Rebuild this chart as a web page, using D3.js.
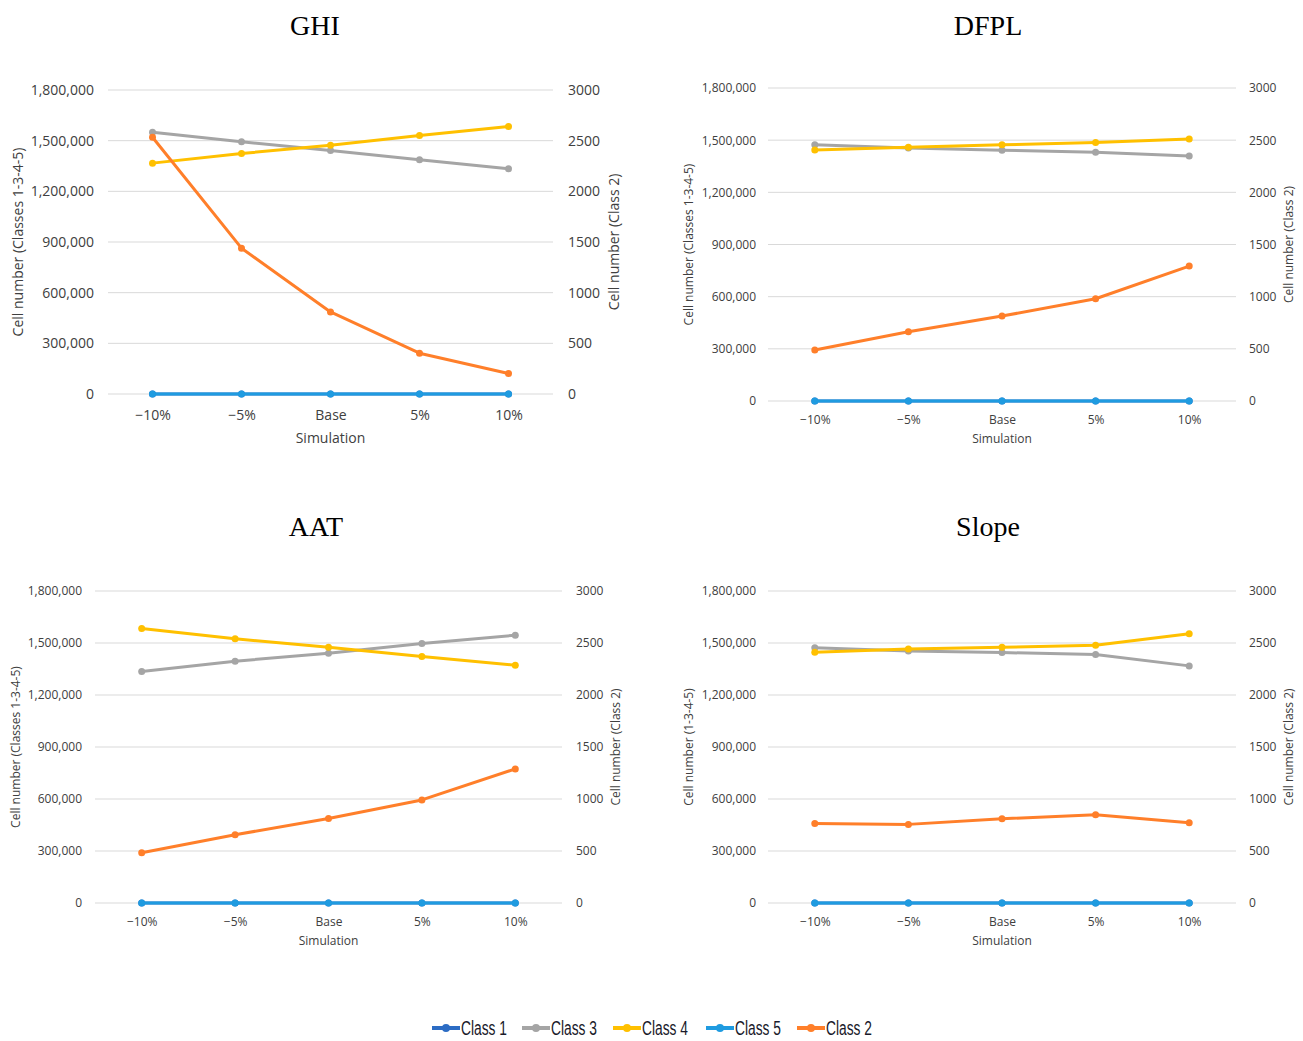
<!DOCTYPE html>
<html>
<head>
<meta charset="utf-8">
<script src="https://cdn.jsdelivr.net/npm/d3@7"></script>
<style>
body { margin: 0; background: #fff; }
text { font-family: "Open Sans", "Noto Sans", sans-serif; fill: #404040; }
.title { font-family: "Liberation Serif", "DejaVu Serif", serif; fill: #000; }
.legend text { font-family: "Liberation Sans", sans-serif; fill: #1a1a2a; }
</style>
</head>
<body>
<svg id="chart" width="1303" height="1041"></svg>
<script>
var categories = ["\u221210%", "\u22125%", "Base", "5%", "10%"];
var leftTicks = [0, 300000, 600000, 900000, 1200000, 1500000, 1800000];
var rightTicks = [0, 500, 1000, 1500, 2000, 2500, 3000];
var seriesNames = ["Class 1", "Class 3", "Class 4", "Class 5", "Class 2"];
var seriesColors = ["#2c6cc4", "#a5a5a5", "#ffc000", "#1f9be0", "#ff7f2a"];

// GHI
var ghiClass1 = [0, 0, 0, 0, 0];
var ghiClass3 = [1550000, 1493000, 1442000, 1387000, 1334000];
var ghiClass4 = [1367000, 1424000, 1473000, 1530000, 1584000];
var ghiClass5 = [0, 0, 0, 0, 0];
var ghiClass2 = [2534, 1439, 810, 403, 203];

// DFPL
var dfplClass1 = [0, 0, 0, 0, 0];
var dfplClass3 = [1473000, 1455000, 1442000, 1430000, 1409000];
var dfplClass4 = [1444000, 1459000, 1473000, 1486000, 1507000];
var dfplClass5 = [0, 0, 0, 0, 0];
var dfplClass2 = [488, 664, 814, 980, 1293];

// AAT
var aatClass1 = [0, 0, 0, 0, 0];
var aatClass3 = [1336000, 1395000, 1441000, 1497000, 1545000];
var aatClass4 = [1583000, 1524000, 1476000, 1422000, 1372000];
var aatClass5 = [0, 0, 0, 0, 0];
var aatClass2 = [483, 656, 812, 991, 1289];

// Slope
var slopeClass1 = [0, 0, 0, 0, 0];
var slopeClass3 = [1473000, 1454000, 1445000, 1433000, 1368000];
var slopeClass4 = [1447000, 1466000, 1475000, 1487000, 1554000];
var slopeClass5 = [0, 0, 0, 0, 0];
var slopeClass2 = [765, 756, 810, 848, 772];

var panels = [
  { title: "GHI", x0: 108, x1: 553, yTop: 90, yBot: 394, titleX: 315, titleY: 35,
    leftTitle: "Cell number (Classes 1-3-4-5)", leftX: 18, rightX: 614,
    tickSize: 14, axisTitleSize: 14, gap: 14, xPad: 16, simOff: 49,
    left: [ghiClass1, ghiClass3, ghiClass4, ghiClass5], right: ghiClass2 },
  { title: "DFPL", x0: 768, x1: 1236, yTop: 88, yBot: 401, titleX: 988, titleY: 35,
    leftTitle: "Cell number (Classes 1-3-4-5)", leftX: 689, rightX: 1289,
    tickSize: 12, axisTitleSize: 12, gap: 12, xPad: 14, simOff: 42,
    left: [dfplClass1, dfplClass3, dfplClass4, dfplClass5], right: dfplClass2 },
  { title: "AAT", x0: 95, x1: 562, yTop: 591, yBot: 903, titleX: 316, titleY: 536,
    leftTitle: "Cell number (Classes 1-3-4-5)", leftX: 16, rightX: 616,
    tickSize: 12, axisTitleSize: 12, gap: 13, xPad: 14, simOff: 42,
    left: [aatClass1, aatClass3, aatClass4, aatClass5], right: aatClass2 },
  { title: "Slope", x0: 768, x1: 1236, yTop: 591, yBot: 903, titleX: 988, titleY: 536,
    leftTitle: "Cell number (1-3-4-5)", leftX: 689, rightX: 1289,
    tickSize: 12, axisTitleSize: 12, gap: 12, xPad: 14, simOff: 42,
    left: [slopeClass1, slopeClass3, slopeClass4, slopeClass5], right: slopeClass2 }
];

var svg = d3.select("#chart");
var fmt = d3.format(",");

panels.forEach(function (p) {
  var g = svg.append("g");
  var x = d3.scalePoint().domain(categories).range([p.x0, p.x1]).padding(0.5);
  var yL = d3.scaleLinear().domain([0, 1800000]).range([p.yBot, p.yTop]);
  var yR = d3.scaleLinear().domain([0, 3000]).range([p.yBot, p.yTop]);

  g.append("text").attr("class", "title")
    .attr("x", p.titleX).attr("y", p.titleY)
    .attr("text-anchor", "middle").style("font-size", "28px").text(p.title);

  // gridlines
  g.selectAll("line.grid").data(leftTicks).enter().append("line")
    .attr("x1", p.x0).attr("x2", p.x1)
    .attr("y1", function (d) { return yL(d); }).attr("y2", function (d) { return yL(d); })
    .attr("stroke", "#d9d9d9").attr("stroke-width", 1);

  // left axis
  var la = g.append("g").attr("transform", "translate(" + p.x0 + ",0)")
    .call(d3.axisLeft(yL).tickValues(leftTicks).tickFormat(fmt).tickSize(0).tickPadding(p.gap));
  la.select(".domain").remove();
  la.selectAll("text").style("font-size", p.tickSize + "px").attr("fill", "#404040").style("font-family", null);

  // right axis
  var ra = g.append("g").attr("transform", "translate(" + p.x1 + ",0)")
    .call(d3.axisRight(yR).tickValues(rightTicks).tickFormat(d3.format("d")).tickSize(0).tickPadding(p.gap + 1));
  ra.select(".domain").remove();
  ra.selectAll("text").style("font-size", p.tickSize + "px").attr("fill", "#404040").style("font-family", null);

  // x axis
  var xa = g.append("g").attr("transform", "translate(0," + p.yBot + ")")
    .call(d3.axisBottom(x).tickSize(0).tickPadding(p.xPad));
  xa.select(".domain").remove();
  xa.selectAll("text").style("font-size", p.tickSize + "px").attr("fill", "#404040").style("font-family", null);

  g.append("text").attr("x", (p.x0 + p.x1) / 2).attr("y", p.yBot + p.simOff)
    .attr("text-anchor", "middle").style("font-size", p.axisTitleSize + "px").text("Simulation");

  var midY = (p.yTop + p.yBot) / 2;
  g.append("text").attr("transform", "translate(" + p.leftX + "," + midY + ") rotate(-90)")
    .attr("text-anchor", "middle").attr("dy", "0.35em")
    .style("font-size", p.axisTitleSize + "px").text(p.leftTitle);
  g.append("text").attr("transform", "translate(" + p.rightX + "," + midY + ") rotate(-90)")
    .attr("text-anchor", "middle").attr("dy", "0.35em")
    .style("font-size", p.axisTitleSize + "px").text("Cell number (Class 2)");

  var series = p.left.map(function (vals, i) {
    return { values: vals, y: yL, color: seriesColors[i] };
  });
  series.push({ values: p.right, y: yR, color: seriesColors[4] });

  series.forEach(function (s) {
    var line = d3.line()
      .x(function (d, i) { return x(categories[i]); })
      .y(function (d) { return s.y(d); });
    g.append("path").datum(s.values)
      .attr("d", line).attr("fill", "none")
      .attr("stroke", s.color).attr("stroke-width", 3).attr("stroke-linejoin", "round");
    g.selectAll(null).data(s.values).enter().append("circle")
      .attr("cx", function (d, i) { return x(categories[i]); })
      .attr("cy", function (d) { return s.y(d); })
      .attr("r", 3.5).attr("fill", s.color);
  });
});

// legend
var legendX = [432, 522, 613, 706, 797];
var legend = svg.append("g").attr("class", "legend");
seriesNames.forEach(function (name, i) {
  var lg = legend.append("g").attr("transform", "translate(" + legendX[i] + ",1028)");
  lg.append("line").attr("x1", 0).attr("x2", 28).attr("y1", 0).attr("y2", 0)
    .attr("stroke", seriesColors[i]).attr("stroke-width", 4);
  lg.append("circle").attr("cx", 14).attr("cy", 0).attr("r", 4).attr("fill", seriesColors[i]);
  lg.append("text").attr("x", 29).attr("y", 0).attr("dy", "0.36em")
    .attr("textLength", 46).attr("lengthAdjust", "spacingAndGlyphs")
    .style("font-size", "20px").text(name);
});
</script>
</body>
</html>
